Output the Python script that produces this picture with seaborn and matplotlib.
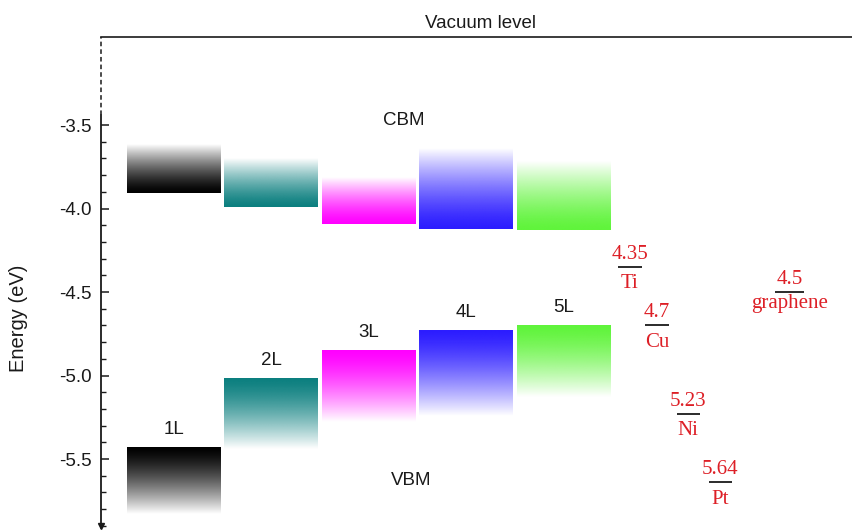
import numpy as np
import pandas as pd
import matplotlib
matplotlib.use('Agg')
import matplotlib.pyplot as plt
import seaborn as sns
from matplotlib.colors import to_rgb
from matplotlib.ticker import FixedLocator, FormatStrFormatter

# band edges of the n-layer flakes (eV)
layers = ['1L', '2L', '3L', '4L', '5L']
cbm_edge = [-3.91, -3.99, -4.09, -4.12, -4.13]
cbm_fade = [-3.62, -3.70, -3.81, -3.64, -3.72]
vbm_edge = [-5.43, -5.02, -4.85, -4.73, -4.70]
vbm_fade = [-5.83, -5.44, -5.28, -5.24, -5.13]
layer_colors = ['#000000', '#0b7f7f', '#ff00ff', '#2b1cff', '#5ff43a']

# contact work functions (eV)
metals = ['Ti', 'Cu', 'Ni', 'Pt', 'graphene']
work_function = [4.35, 4.7, 5.23, 5.64, 4.5]

# layout only
metal_x = [4.68, 4.96, 5.28, 5.61, 6.32]
metal_halfw = [0.125, 0.125, 0.12, 0.12, 0.145]
name_offset = [-15.5, -15.5, -15.5, -15.5, -11.5]
red = '#dd1f26'

sns.set_theme(style='ticks')
plt.rcParams['font.family'] = ['Liberation Sans', 'DejaVu Sans']
plt.rcParams['axes.unicode_minus'] = False
plt.rcParams['text.color'] = 'k'
plt.rcParams['axes.labelcolor'] = 'k'

df = pd.DataFrame({'layer': layers, 'cbm': cbm_edge, 'cbm_fade': cbm_fade,
                   'vbm': vbm_edge, 'vbm_fade': vbm_fade, 'color': layer_colors})

fig = plt.figure(figsize=(8.53, 5.30), dpi=100)
ax = fig.add_axes([101/853, 2/530, 752/853, 491/530])

w = 0.965
ramp = np.linspace(0, 1, 256)
for i, row in df.iterrows():
    img = np.zeros((256, 1, 4))
    img[..., :3] = to_rgb(row['color'])
    # CBM: solid at the band edge, fading upwards
    img[:, 0, 3] = 1 - ramp ** 1.4
    ax.imshow(img.copy(), extent=[i - w/2, i + w/2, row['cbm'], row['cbm_fade']],
              origin='lower', aspect='auto', interpolation='bilinear')
    # VBM: solid at the band edge, fading downwards
    img[:, 0, 3] = 1 - (1 - ramp) ** 1.4
    ax.imshow(img.copy(), extent=[i - w/2, i + w/2, row['vbm_fade'], row['vbm']],
              origin='lower', aspect='auto', interpolation='bilinear')
    ax.annotate(row['layer'], (i, row['vbm']), xytext=(0, 7), textcoords='offset points',
                ha='center', va='bottom', fontsize=13.5, color='k')

for m, wf, xm, hw, off in zip(metals, work_function, metal_x, metal_halfw, name_offset):
    ax.hlines(-wf, xm - hw, xm + hw, color='0.1', lw=1.3)
    ax.annotate(f'{wf}', (xm, -wf), xytext=(0, 5.8), textcoords='offset points',
                ha='center', va='baseline', color=red, fontsize=15, family='Liberation Serif')
    ax.annotate(m, (xm, -wf), xytext=(0, off), textcoords='offset points',
                ha='center', va='baseline', color=red, fontsize=15, family='Liberation Serif')

ax.text(2.36, -3.47, 'CBM', ha='center', va='center', fontsize=13.5, color='k')
ax.text(2.43, -5.63, 'VBM', ha='center', va='center', fontsize=13.5, color='k')
ax.annotate('Vacuum level', (0.504, 1), xycoords='axes fraction', xytext=(0, 6.5),
            textcoords='offset points', ha='center', va='baseline', fontsize=13.5, color='k')

x0, x1 = -0.7495, 6.971
ybot, ytop = -5.913, -2.973
ax.set_xlim(x0, x1)
ax.set_ylim(ybot, ytop)

# custom left axis: dashed above -3.5, solid below with an arrow
ax.plot([x0, x0], [-3.44, ytop], color='k', lw=1.1, ls=(0, (3, 2)), clip_on=False)
ax.plot([x0, x0], [ybot, -3.44], color='k', lw=1.3, clip_on=False)
ax.plot([x0], [ybot + 0.01], marker='v', color='k', ms=5, clip_on=False)

for s in ['left', 'right', 'bottom']:
    ax.spines[s].set_visible(False)
ax.spines['top'].set_linewidth(1.2)
ax.spines['top'].set_color('0.1')

ax.set_xticks([])
ax.yaxis.set_major_locator(FixedLocator([-5.5, -5.0, -4.5, -4.0, -3.5]))
ax.yaxis.set_minor_locator(FixedLocator(np.round(np.arange(-5.9, -3.45, 0.1), 2)))
ax.yaxis.set_major_formatter(FormatStrFormatter('%.1f'))
ax.tick_params(axis='y', which='major', direction='in', length=6, width=1.1,
               labelsize=13.5, pad=7, color='k', labelcolor='k')
ax.tick_params(axis='y', which='minor', direction='in', length=3.5, width=1, color='k')

fig.text(19/853, 1 - 318/530, 'Energy (eV)', rotation=90, ha='center', va='center',
         fontsize=14.5, color='k')

fig.savefig('out.png', dpi=100)
